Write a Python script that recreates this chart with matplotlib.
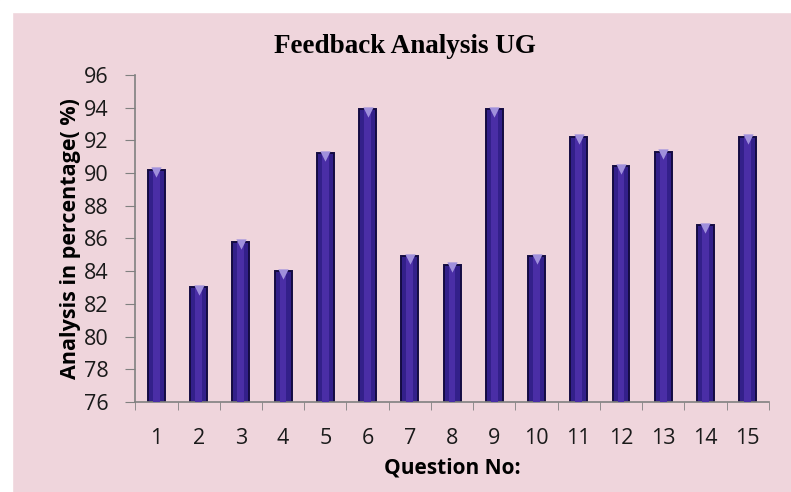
import matplotlib.pyplot as plt
import numpy as np

questions = list(range(1, 16))
scores = [90.2, 83.0, 85.8, 84.0, 91.2, 93.9, 84.9, 84.4, 93.9, 84.9, 92.2, 90.4, 91.3, 86.8, 92.2]
yticks = list(range(76, 97, 2))

bg = '#efd5dc'
fig = plt.figure(figsize=(7.91, 4.92), dpi=100, facecolor=bg)
# white scanner margin on top and left
fig.patches.append(plt.Rectangle((0, 0.975), 1, 0.025, transform=fig.transFigure, color='white', zorder=0))
fig.patches.append(plt.Rectangle((0, 0), 0.015, 1, transform=fig.transFigure, color='white', zorder=0))

ax = fig.add_axes([0.171, 0.183, 0.801, 0.665])
ax.set_facecolor(bg)

x = np.array(questions)
h = np.array(scores) - 76
ax.bar(x, h, bottom=76, width=0.4, color='#33208a', edgecolor='#140b42', linewidth=1.4, zorder=2)
# lighter centre strip for the cylinder look
ax.bar(x, h, bottom=76, width=0.16, color='#4a2ea6', linewidth=0, zorder=3)
# cone tip
ax.scatter(x, np.array(scores) - 0.15, marker='v', s=55, color='#a090dc', zorder=4, linewidths=0)

ax.set_xlim(0.5, 15.5)
ax.set_ylim(76, 96)
ax.set_yticks(yticks)
ax.set_xticks(x)
ax.set_xticks(np.arange(0.5, 16, 1), minor=True)
ax.tick_params(axis='x', which='major', length=0, pad=19)
ax.tick_params(axis='x', which='minor', length=6, color='#808080', direction='out')
ax.tick_params(axis='y', length=7, color='#808080', direction='out', pad=12)
for lab in ax.get_xticklabels() + ax.get_yticklabels():
    lab.set_fontfamily('Open Sans')
    lab.set_fontsize(15.5)
    lab.set_color('#1a1a1a')

for s in ['top', 'right']:
    ax.spines[s].set_visible(False)
for s in ['left', 'bottom']:
    ax.spines[s].set_color('#808080')
    ax.spines[s].set_linewidth(1.2)

ax.set_ylabel('Analysis in percentage( %)', fontfamily='Open Sans', fontweight='bold', fontsize=15.5, labelpad=2)
ax.set_xlabel('Question No:', fontfamily='Open Sans', fontweight='bold', fontsize=15, labelpad=6)
fig.text(0.512, 0.905, 'Feedback Analysis UG', fontfamily='Liberation Serif', fontweight='bold',
         fontsize=19.5, ha='center', va='center')

fig.savefig('out.png', dpi=100, facecolor=bg)
